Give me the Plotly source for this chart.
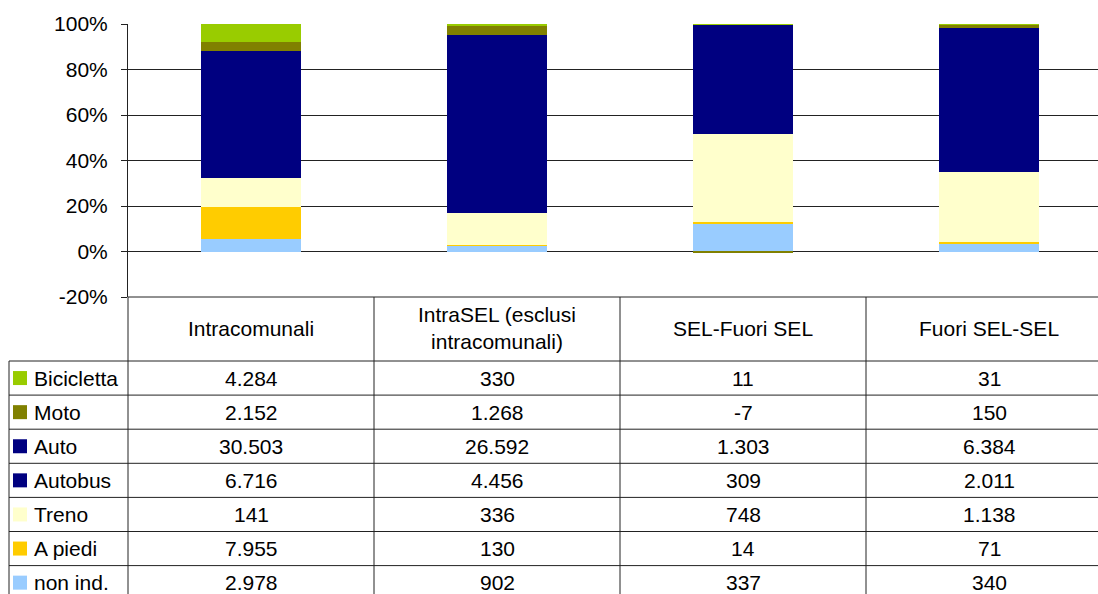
import plotly.graph_objects as go

categories = ["Intracomunali", "IntraSEL (esclusi<br>intracomunali)", "SEL-Fuori SEL", "Fuori SEL-SEL"]

# rows of the data table, top to bottom
series = ["Bicicletta", "Moto", "Auto", "Autobus", "Treno", "A piedi", "non ind."]
bicicletta = [4284, 330, 11, 31]
moto = [2152, 1268, -7, 150]
auto = [30503, 26592, 1303, 6384]
autobus = [6716, 4456, 309, 2011]
treno = [141, 336, 748, 1138]
a_piedi = [7955, 130, 14, 71]
non_ind = [2978, 902, 337, 340]
values = [bicicletta, moto, auto, autobus, treno, a_piedi, non_ind]

yticks = [-20, 0, 20, 40, 60, 80, 100]

# bar colours (in the original the Autobus bars are pale yellow, its legend key navy)
bar_colors = ["#99CC00", "#808000", "#000080", "#FFFFCC", "#FFFFCC", "#FFCC00", "#99CCFF"]
key_colors = ["#99CC00", "#808000", "#000080", "#000080", "#FFFFCC", "#FFCC00", "#99CCFF"]

FONT = "Liberation Sans, Arial, sans-serif"
FS = 21
W, H = 1098, 594
L, T, B = 128, 24, 297      # plot area in pixels
COLW = 246                  # width of one table column
ROW0, ROWH = 361, 34.1      # first data row top, row height
LINE = "#222222"

totals = [sum(v[i] for v in values) for i in range(len(categories))]
xs = list(range(len(categories)))

fig = go.Figure()
# stack from the bottom: non ind. first, Bicicletta on top
for name, vals, col in reversed(list(zip(series, values, bar_colors))):
    pct = [v / t * 100 for v, t in zip(vals, totals)]
    fig.add_trace(go.Bar(x=xs, y=pct, name=name, marker_color=col,
                         marker_line_width=0, width=0.405))


def px_x(px):
    return (px - L) / (W - L)


def px_y(py):
    return (B - py) / (B - T)


def hline(y, x0, x1=1):
    return dict(type="line", xref="paper", yref="paper", x0=x0, x1=x1, y0=y, y1=y,
                line=dict(color=LINE, width=1))


shapes = []
ann = []

# table horizontal lines
shapes.append(hline(px_y(B), 0))
for k in range(len(series) + 1):
    shapes.append(hline(px_y(ROW0 + k * ROWH), px_x(9)))
# vertical lines
shapes.append(dict(type="line", xref="paper", yref="paper", x0=px_x(9), x1=px_x(9),
                   y0=px_y(ROW0), y1=px_y(600), line=dict(color=LINE, width=1)))
shapes.append(dict(type="line", xref="paper", yref="paper", x0=0, x1=0,
                   y0=px_y(B), y1=px_y(600), line=dict(color=LINE, width=1)))
for i in xs[:-1]:
    shapes.append(dict(type="line", xref="x", yref="paper", x0=i + 0.5, x1=i + 0.5,
                       y0=px_y(B), y1=px_y(600), line=dict(color=LINE, width=1)))

# header labels
for i, c in zip(xs, categories):
    ann.append(dict(x=i, y=px_y(328), xref="x", yref="paper", text=c, showarrow=False,
                    yanchor="middle", font=dict(size=FS, color="black", family=FONT)))

# data rows with legend keys
for k, (name, vals, kc) in enumerate(zip(series, values, key_colors)):
    yc = ROW0 + k * ROWH + ROWH / 2
    shapes.append(dict(type="rect", xref="paper", yref="paper",
                       x0=px_x(13), x1=px_x(27), y0=px_y(yc - 7), y1=px_y(yc + 7),
                       fillcolor=kc, line_width=0))
    ann.append(dict(x=px_x(32), y=px_y(yc), xref="paper", yref="paper", text=name,
                    xanchor="left", yanchor="middle", showarrow=False,
                    font=dict(size=FS, color="black", family=FONT)))
    for i, v in zip(xs, vals):
        ann.append(dict(x=i, y=px_y(yc), xref="x", yref="paper", yanchor="middle",
                        text=f"{v:,}".replace(",", "."), showarrow=False,
                        font=dict(size=FS, color="black", family=FONT)))

fig.update_layout(
    width=W, height=H,
    margin=dict(l=L, r=0, t=T, b=H - B),
    barmode="relative", bargap=0,
    showlegend=False,
    plot_bgcolor="white", paper_bgcolor="white",
    font=dict(family=FONT, size=FS, color="black"),
    shapes=shapes, annotations=ann,
)
fig.update_xaxes(range=[-0.5, -0.5 + (W - L) / COLW], showticklabels=False,
                 showgrid=False, zeroline=False, showline=False, fixedrange=True)
fig.update_yaxes(range=[-20, 100], tickvals=yticks, ticktext=[f"{t}%" for t in yticks],
                 showgrid=True, gridcolor=LINE, gridwidth=1, zeroline=False,
                 showline=True, linecolor=LINE, linewidth=1,
                 ticks="outside", ticklen=6, tickcolor=LINE, ticklabelstandoff=9,
                 tickfont=dict(size=FS, color="black", family=FONT), fixedrange=True)

# drop the page margin so the figure fills the window exactly
fig.write_html("out.html", config={"displayModeBar": False},
               post_script="document.body.style.margin='0';document.body.style.overflow='hidden';")
